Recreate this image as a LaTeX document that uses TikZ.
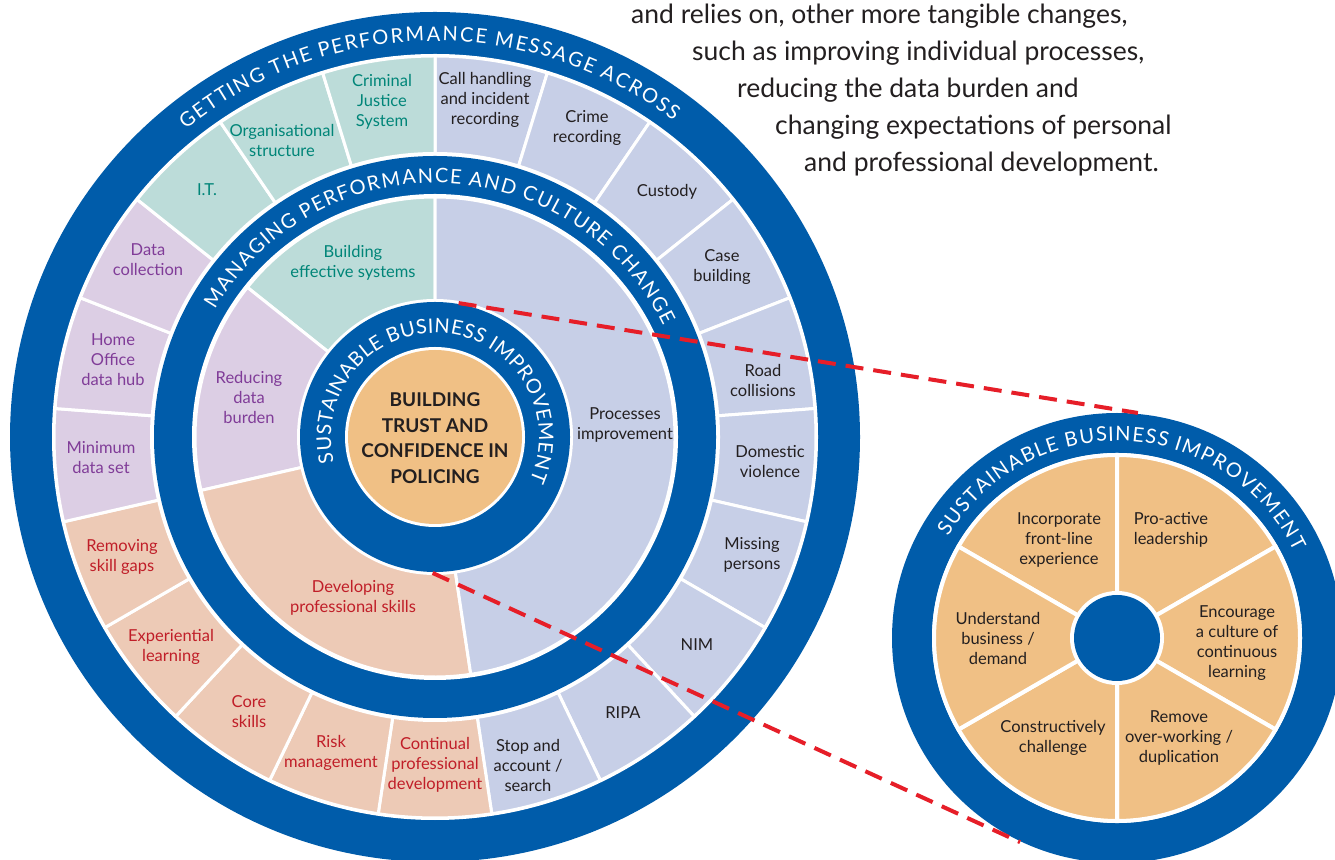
\documentclass[tikz,border=0pt]{standalone}
\usepackage{fontspec}
\setmainfont{Lato}
\usetikzlibrary{decorations.text,calc}
\definecolor{pblue}{RGB}{0,92,170}
\definecolor{segblue}{RGB}{199,207,231}
\definecolor{segteal}{RGB}{188,220,217}
\definecolor{segpurple}{RGB}{220,206,228}
\definecolor{segpeach}{RGB}{237,202,182}
\definecolor{corange}{RGB}{240,192,133}
\definecolor{tteal}{RGB}{0,133,120}
\definecolor{tpurple}{RGB}{128,60,152}
\definecolor{tred}{RGB}{192,30,40}
\definecolor{tdark}{RGB}{35,31,32}
\definecolor{dashred}{RGB}{230,30,40}
\newcommand{\ringfont}{\fontsize{20}{20}\selectfont}
\begin{document}
\begin{tikzpicture}[x=1pt,y=1pt,
  lbl/.style={align=center, font=\fontsize{16.5}{20}\selectfont, inner sep=0pt},
  lblblue/.style={lbl, text=tdark},
  lblteal/.style={lbl, text=tteal},
  lblpurple/.style={lbl, text=tpurple},
  lblred/.style={lbl, text=tred},
  body/.style={anchor=base west, inner sep=0pt, text=tdark, font=\fontsize{26.5}{37}\selectfont},
  slice/.style={draw=white, line width=3pt},
  zoomline/.style={draw=dashred, line width=4pt, dash pattern=on 18pt off 10pt},
  ringtext/.style={decorate, decoration={text effects along path, text={#1},
     text effects/.cd, text along path, fit text to path,
     characters={text=white, font=\ringfont, inner sep=0pt}}}
]
\fill[white] (0,0) rectangle (1335,859);
\clip (0,0) rectangle (1335,859);
\coordinate (C1) at (435,422);
\coordinate (C2) at (1117,221);

% ---------- big wheel ----------
\fill[pblue] (C1) circle (425);
\fill[white] (C1) circle (383);
\foreach \i/\c in {0/segblue,1/segblue,2/segblue,3/segblue,4/segblue,5/segblue,6/segblue,7/segblue,8/segblue,9/segblue,10/segpeach,11/segpeach,12/segpeach,13/segpeach,14/segpeach,15/segpurple,16/segpurple,17/segpurple,18/segteal,19/segteal,20/segteal}
{
  \pgfmathsetmacro\aa{90-\i*360/21}
  \pgfmathsetmacro\bb{90-(\i+1)*360/21}
  \filldraw[slice, fill=\c] (C1) -- ($(C1)+(\aa:381)$) arc[start angle=\aa, end angle=\bb, radius=381] -- cycle;
}
\fill[white] (C1) circle (285);
\fill[pblue] (C1) circle (281);
\fill[white] (C1) circle (243);
\filldraw[slice, fill=segteal] (C1) -- ($(C1)+(90:240)$) arc[start angle=90, end angle=141.4286, radius=240] -- cycle;
\filldraw[slice, fill=segpurple] (C1) -- ($(C1)+(141.4286:240)$) arc[start angle=141.4286, end angle=192.8571, radius=240] -- cycle;
\filldraw[slice, fill=segpeach] (C1) -- ($(C1)+(192.8571:240)$) arc[start angle=192.8571, end angle=278.5714, radius=240] -- cycle;
\filldraw[slice, fill=segblue] (C1) -- ($(C1)+(-81.4286:240)$) arc[start angle=-81.4286, end angle=90, radius=240] -- cycle;
\fill[white] (C1) circle (138);
\fill[pblue] (C1) circle (135);
\fill[white] (C1) circle (90);
\fill[corange] (C1) circle (87);

% ring titles
\path[ringtext={GETTING THE PERFORMANCE MESSAGE ACROSS}] ($(C1)+(129:396)$) arc[start angle=129, end angle=53, radius=396];
\path[ringtext={MANAGING PERFORMANCE AND CULTURE CHANGE}] ($(C1)+(150:254)$) arc[start angle=150, end angle=26, radius=254];
\path[ringtext={SUSTAINABLE BUSINESS IMPROVEMENT}] ($(C1)+(194:104)$) arc[start angle=194, end angle=-24.5, radius=104];

% outer segment labels
\node[lblblue] (callh) at (485,759) {Call handling\\and incident\\recording};
\node[lblblue] (crime) at (587,731) {Crime\\recording};
\node[lblblue] (custody) at (667,667) {Custody};
\node[lblblue] (casebld) at (722,592) {Case\\building};
\node[lblblue] (road) at (763,479) {Road\\collisions};
\node[lblblue] (domestic) at (770,397) {Domestic\\violence};
\node[lblblue] (missing) at (752,304) {Missing\\persons};
\node[lblblue] (nim) at (697,214) {NIM};
\node[lblblue] (ripa) at (623,146) {RIPA};
\node[lblblue] (stop) at (528,94) {Stop and\\account /\\search};
\node[lblred] (cpd) at (435,94) {Continual\\professional\\development};
\node[lblred] (risk) at (331,106) {Risk\\management};
\node[lblred] (coresk) at (249,147) {Core\\skills};
\node[lblred] (exper) at (171,212) {Experiential\\learning};
\node[lblred] (remgap) at (122,302) {Removing\\skill gaps};
\node[lblpurple] (minset) at (101,401) {Minimum\\data set};
\node[lblpurple] (hub) at (113,499) {Home\\Office\\data hub};
\node[lblpurple] (datacol) at (148,599) {Data\\collection};
\node[lblteal] (it) at (207,669) {I.T.};
\node[lblteal] (orgstr) at (282,719) {Organisational\\structure};
\node[lblteal] (cjs) at (382,757) {Criminal\\Justice\\System};

% middle sector labels
\node[lblteal] (bes) at (353,596) {Building\\effective systems};
\node[lblpurple] (rdb) at (249,462) {Reducing\\data\\burden};
\node[lblred] (dps) at (353,261) {Developing\\professional skills};
\node[lblblue] (proc) at (625,434) {Processes\\improvement};

% centre
\node[align=center, inner sep=0pt, text=tdark, font=\fontsize{19}{25.7}\selectfont\bfseries] (core) at (435,421) {BUILDING\\TRUST AND\\CONFIDENCE IN\\POLICING};

% ---------- small wheel ----------
\fill[pblue] (C2) circle (225);
\fill[white] (C2) circle (185);
\foreach \s/\e in {90/150,30/90,-30/30,-90/-30,-150/-90,150/210}
{
  \filldraw[draw=white, line width=4pt, fill=corange] (C2) -- ($(C2)+(\s:183)$) arc[start angle=\s, end angle=\e, radius=183] -- cycle;
}
\fill[white] (C2) circle (47);
\fill[pblue] (C2) circle (43);
\path[ringtext={SUSTAINABLE BUSINESS IMPROVEMENT}] ($(C2)+(149:197)$) arc[start angle=149, end angle=26, radius=197];

\node[lblblue] (incorp) at (1059,319) {Incorporate\\front-line\\experience};
\node[lblblue] (proact) at (1171,329) {Pro-active\\leadership};
\node[lblblue] (encour) at (1237,216) {Encourage\\a culture of\\continuous\\learning};
\node[lblblue] (remove) at (1179,121) {Remove\\over-working /\\duplication};
\node[lblblue] (constr) at (1053,121) {Constructively\\challenge};
\node[lblblue] (underst) at (998,221) {Understand\\business /\\demand};

% ---------- body text ----------
\node[body] (t1) at (631,835) {and relies on, other more tangible changes,};
\node[body] (t2) at (692,798) {such as improving individual processes,};
\node[body] (t3) at (737,761) {reducing the data burden and};
\node[body] (t4) at (775,724) {changing expectations of personal};
\node[body] (t5) at (804,687) {and professional development.};

% ---------- zoom connectors ----------
\coordinate (za) at ($(C1)+(80:136)$);
\coordinate (zb) at ($(C2)+(84.7:226)$);
\coordinate (zc) at ($(C1)+(269:136)$);
\coordinate (zd) at ($(C2)+(244.6:226)$);
\draw[zoomline] (za) -- (zb);
\draw[zoomline] (zc) -- (zd);
\end{tikzpicture}
\end{document}
